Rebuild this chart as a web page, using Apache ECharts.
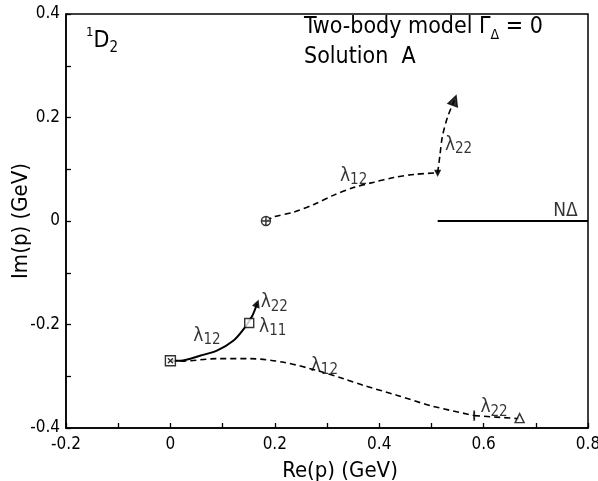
<!DOCTYPE html>
<html>
<head>
<meta charset="utf-8">
<script src="https://cdn.jsdelivr.net/npm/echarts@6/dist/echarts.min.js"></script>
<style>
  html, body { margin: 0; padding: 0; background: #fff; }
  #main { width: 598px; height: 481px; }
</style>
</head>
<body>
<div id="main"></div>
<script>
// pole trajectories, [Re p, Im p] in GeV
var upperL12 = [[0.183, 0.0], [0.198, 0.008], [0.236, 0.017], [0.275, 0.032], [0.313, 0.050],
    [0.352, 0.065], [0.39, 0.075], [0.428, 0.084], [0.467, 0.090], [0.512, 0.093]];
var upperL22 = [[0.512, 0.093], [0.516, 0.124], [0.521, 0.163], [0.531, 0.201], [0.544, 0.233]];
var solidL12 = [[0.0, -0.27], [0.019, -0.270], [0.058, -0.260], [0.090, -0.250], [0.121, -0.231],
    [0.141, -0.208], [0.157, -0.183], [0.166, -0.16]];
var lowerL12 = [[0.0, -0.27], [0.019, -0.271], [0.09, -0.266], [0.153, -0.266], [0.217, -0.273],
    [0.281, -0.289], [0.332, -0.305], [0.371, -0.318], [0.435, -0.337], [0.499, -0.357], [0.582, -0.376]];
var lowerL22 = [[0.582, -0.376], [0.668, -0.382]];
var threshold = [[0.512, 0.0], [0.8, 0.0]];

// markers
var startCircle = [[0.183, 0.0]];
var startSquare = [[0.0, -0.27]];
var endFilledTri = [[0.544, 0.233]];
var endOpenTri = [[0.669, -0.381]];
var endOpenSquare = [[0.151, -0.197]];
var endArrow = [[0.166, -0.16]];
var turnArrow = [[0.512, 0.093]];
var turnTick = [[0.582, -0.376]];

// labels: x, y, name, subscript
var curveLabels = [
    [0.351, 0.087, 'λ', '12'],
    [0.552, 0.147, 'λ', '22'],
    [0.070, -0.222, 'λ', '12'],
    [0.199, -0.157, 'λ', '22'],
    [0.196, -0.204, 'λ', '11'],
    [0.295, -0.280, 'λ', '12'],
    [0.620, -0.360, 'λ', '22'],
    [0.757, 0.020, 'NΔ', '']
];

var xTicks = [-0.2, 0, 0.2, 0.4, 0.6, 0.8];
var yTicks = [-0.4, -0.2, 0, 0.2, 0.4];

var FONT = "'DejaVu Sans Condensed', 'Liberation Sans Narrow', 'DejaVu Sans', sans-serif";

function fmt(v) {
    var r = Math.round(v * 10) / 10;
    return r === 0 ? '0' : r.toFixed(1);
}

function lineSeries(data, dashed, width) {
    return {
        type: 'line', data: data, smooth: 0.3, symbol: 'none', silent: true,
        lineStyle: { color: '#000', width: width || 1.6, type: dashed ? [6, 4] : 'solid' },
        z: 2
    };
}

function markSeries(data, symbol, size, fill, rotate) {
    return {
        type: 'scatter', data: data, symbol: symbol, symbolSize: size, symbolRotate: rotate || 0,
        itemStyle: { color: fill, borderColor: '#000', borderWidth: 1.4 },
        z: 5
    };
}

var labelData = curveLabels.map(function (l) {
    var txt = l[3] ? '{l|' + l[2] + '}{s|' + l[3] + '}' : '{l|' + l[2] + '}';
    return { value: [l[0], l[1]], name: txt };
});

var axisCommon = {
    nameMoveOverlap: false,
    axisLine: { onZero: false, lineStyle: { color: '#000', width: 1.5 } },
    axisTick: { inside: true, length: 5, lineStyle: { color: '#000', width: 1.3 } },
    minorTick: { show: true, splitNumber: 2, length: 5, lineStyle: { color: '#000', width: 1.3 } },
    splitLine: { show: false }
};

var myChart = echarts.init(document.getElementById('main'));
myChart.setOption({
    animation: false,
    backgroundColor: '#fff',
    textStyle: { fontFamily: FONT, color: '#000' },
    grid: {
        left: 66, right: 10, top: 14, bottom: 53, show: true,
        outerBoundsMode: 'none', containLabel: false,
        borderColor: '#000', borderWidth: 1.5, backgroundColor: 'transparent'
    },
    xAxis: Object.assign({
        type: 'value', min: xTicks[0], max: xTicks[xTicks.length - 1], interval: 0.2,
        name: 'Re(p) (GeV)', nameLocation: 'middle', nameGap: 32,
        nameTextStyle: { fontSize: 22, fontFamily: FONT, color: '#000', padding: [0, 0, 0, 26] },
        axisLabel: { formatter: fmt, fontSize: 17, color: '#000', margin: 8, fontFamily: FONT }
    }, axisCommon),
    yAxis: Object.assign({
        type: 'value', min: yTicks[0], max: yTicks[yTicks.length - 1], interval: 0.2,
        name: 'Im(p) (GeV)', nameLocation: 'middle', nameGap: 34,
        nameTextStyle: { fontSize: 22, fontFamily: FONT, color: '#000' },
        axisLabel: { formatter: fmt, fontSize: 17, color: '#000', margin: 6, fontFamily: FONT }
    }, axisCommon),
    graphic: [
        {
            type: 'text', left: 86, top: 26,
            style: {
                text: '{p|1}{d|D}{s|2}', fill: '#000',
                rich: {
                    p: { fontSize: 13, lineHeight: 14, verticalAlign: 'top', fontFamily: FONT },
                    d: { fontSize: 23, lineHeight: 30, fontFamily: FONT },
                    s: { fontSize: 15, lineHeight: 16, verticalAlign: 'bottom', fontFamily: FONT }
                }
            }
        },
        {
            type: 'text', left: 304, top: 16,
            style: {
                text: '{m|Two-body model Γ}{s|Δ}{m| = 0}\n{m|Solution  A}', fill: '#000',
                rich: {
                    m: { fontSize: 23, lineHeight: 30, fontFamily: FONT },
                    s: { fontSize: 14, lineHeight: 15, verticalAlign: 'bottom', fontFamily: FONT }
                }
            }
        }
    ],
    series: [
        lineSeries(upperL12, true),
        lineSeries(upperL22, true),
        lineSeries(solidL12, false, 2),
        lineSeries(lowerL12, true),
        lineSeries(lowerL22, true),
        lineSeries(threshold, false, 2),
        markSeries(startCircle, 'path://M0,-5A5,5 0 1,1 0,5A5,5 0 1,1 0,-5ZM0,-5L0,5M-5,0L5,0', 9, '#fff'),
        markSeries(startSquare, 'path://M-5,-5H5V5H-5ZM-2.5,-2.5L2.5,2.5M2.5,-2.5L-2.5,2.5', 10, '#fff'),
        markSeries(endFilledTri, 'triangle', 10, '#000', -20),
        markSeries(endOpenTri, 'triangle', 9, '#fff'),
        markSeries(endOpenSquare, 'rect', 9, '#fff'),
        markSeries(endArrow, 'triangle', 6, '#000', -20),
        markSeries(turnArrow, 'triangle', 5, '#000', 180),
        markSeries(turnTick, 'rect', [1.2, 7], '#000'),
        {
            type: 'scatter', data: labelData, symbolSize: 1, silent: true,
            itemStyle: { color: 'transparent' },
            label: {
                show: true, position: 'inside', color: '#000',
                formatter: function (p) { return p.name; },
                rich: {
                    l: { fontSize: 19, lineHeight: 24, fontFamily: FONT },
                    s: { fontSize: 15, lineHeight: 15, verticalAlign: 'bottom', fontFamily: FONT }
                }
            },
            z: 6
        }
    ]
});
</script>
</body>
</html>
